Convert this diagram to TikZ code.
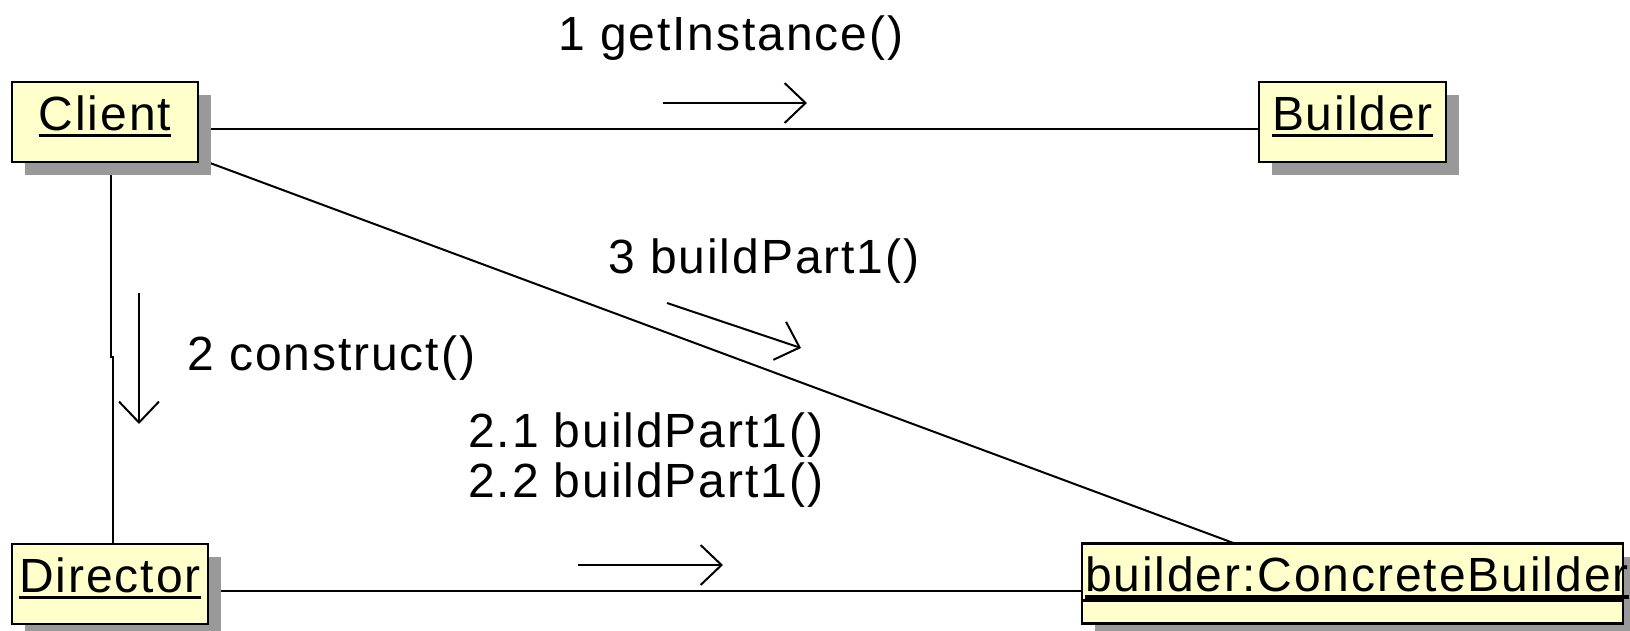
\documentclass[tikz,border=0pt]{standalone}
\usepackage{fontspec}
\newfontfamily\umlfont{Liberation Sans}[LetterSpace=4]
\usetikzlibrary{arrows.meta,shadows,backgrounds}
\definecolor{objfill}{RGB}{255,255,204}
\definecolor{shadowgray}{RGB}{153,153,153}
\newsavebox\objbox
\newcommand{\objname}[1]{\sbox\objbox{#1}\rlap{\rule[-7pt]{\wd\objbox}{3.5pt}}\usebox\objbox}
\tikzset{msg/.style={line width=2pt,-{Straight Barb[length=21pt,width=40pt]}}}

\begin{document}
\begin{tikzpicture}[x=1pt,y=-1pt,
	every node/.style={font=\umlfont\fontsize{48}{50}\selectfont},
	object/.style={draw=black, line width=2.5pt, fill=objfill, inner sep=0pt, minimum width=#1, text height=48pt, text depth=32pt, drop shadow={shadow xshift=13pt, shadow yshift=-13pt, fill=shadowgray, opacity=1}},
	link/.style={line width=2pt},
	msglabel/.style={anchor=base west, inner sep=0pt}]
	\useasboundingbox (0,0) rectangle (1630,630);
	
	% OBJECTS
	
	\node[object=186pt] (client) at (105,122) {\objname{Client}};
	\node[object=187pt] (builder) at (1352.5,122) {\objname{Builder}};
	\node[object=196pt] (director) at (110,584) {\objname{Director}};
	\node[object=541pt] (concrete) at (1352.5,583.5) {\makebox[535pt][l]{\objname{builder:ConcreteBuilder}}};
	\draw[line width=2.5pt] ([yshift=24.5pt]concrete.south west) -- ([yshift=24.5pt]concrete.south east);
	
	% LINKS
	
	\begin{scope}[on background layer]
		\draw[link] ([yshift=-7pt]client.center) -- ([yshift=-7pt]client.center -| builder.west);
		\draw[link] ([xshift=6pt]client.center) -- ++(0,235) -- ++(2,0) |- (director.center);
		\draw[link] ([yshift=-2pt]client.center) -- ([xshift=-10pt]concrete.center);
		\draw[link] ([yshift=-7pt]director.center) -- ([yshift=-7pt]director.center -| concrete.west);
	\end{scope}
	
	% MESSAGES
	
	\node[msglabel] (getinstance) at (558,50) {1 getInstance()};
	\coordinate (getinstance1) at (663,103);
	\coordinate (getinstance2) at (807,103);
	\draw[msg] (getinstance1) -- (getinstance2);
	
	\node[msglabel] (construct) at (187,370) {2 construct()};
	\coordinate (construct1) at (139,293);
	\coordinate (construct2) at (139,424);
	\draw[msg] (construct1) -- (construct2);
	
	\node[msglabel, align=left] (buildparts) at (468,497) {2.1 buildPart1()\\2.2 buildPart1()};
	\coordinate (buildparts1) at (578,565);
	\coordinate (buildparts2) at (723,565);
	\draw[msg] (buildparts1) -- (buildparts2);
	
	\node[msglabel] (buildpart) at (608,273) {3 buildPart1()};
	\coordinate (buildpart1) at (667,303);
	\coordinate (buildpart2) at (801,348);
	\draw[msg] (buildpart1) -- (buildpart2);
\end{tikzpicture}
\end{document}
